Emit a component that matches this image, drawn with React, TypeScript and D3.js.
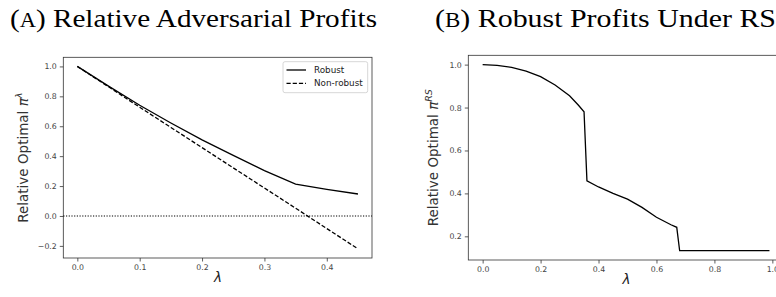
import React, { useEffect, useRef } from "react";
import * as d3 from "d3";

// Panel A: relative adversarial profits
const lambdaA = [0, 0.05, 0.1, 0.15, 0.2, 0.25, 0.3, 0.35, 0.4, 0.45];
const robustA = [1.0, 0.868, 0.74, 0.622, 0.509, 0.405, 0.303, 0.213, 0.178, 0.147];
const nonRobustA = [1.0, 0.864, 0.727, 0.592, 0.457, 0.322, 0.187, 0.052, -0.084, -0.22];
const xTicksA = [0, 0.1, 0.2, 0.3, 0.4];
const yTicksA = [-0.2, 0, 0.2, 0.4, 0.6, 0.8, 1.0];

// Panel B: robust profits under RS
const lambdaB = [0, 0.05, 0.1, 0.15, 0.2, 0.25, 0.3, 0.33, 0.35, 0.36, 0.4, 0.45, 0.5, 0.55, 0.6, 0.65, 0.67, 0.68, 0.99];
const profitB = [1.0, 0.996, 0.987, 0.97, 0.944, 0.905, 0.855, 0.812, 0.78, 0.459, 0.43, 0.4, 0.373, 0.335, 0.289, 0.254, 0.242, 0.133, 0.133];
const xTicksB = [0, 0.2, 0.4, 0.6, 0.8, 1.0];
const yTicksB = [0.2, 0.4, 0.6, 0.8, 1.0];

const tickFont = "DejaVu Sans";
const textColor = "#444";

const App = () => {
  const ref = useRef<SVGSVGElement>(null);

  useEffect(() => {
    const svg = d3.select(ref.current);
    svg.selectAll("*").remove();

    // draw a matplotlib-like axes box with ticks
    const drawAxes = (
      x: d3.ScaleLinear<number, number>,
      y: d3.ScaleLinear<number, number>,
      xTicks: number[],
      yTicks: number[]
    ) => {
      const [x0, x1] = x.range();
      const [y0, y1] = y.range();
      const g = svg.append("g");

      g.append("g")
        .attr("transform", `translate(0,${y0})`)
        .call(d3.axisBottom(x).tickValues(xTicks).tickSize(3.5).tickPadding(2.5).tickFormat(d3.format(".1f")))
        .call((a) => a.select(".domain").remove())
        .call((a) => a.selectAll("line").attr("stroke", "#333").attr("stroke-width", 0.8))
        .call((a) =>
          a.selectAll("text").attr("font-family", tickFont).attr("font-size", 7.8).attr("fill", textColor)
        );

      g.append("g")
        .attr("transform", `translate(${x0},0)`)
        .call(d3.axisLeft(y).tickValues(yTicks).tickSize(3.5).tickPadding(3).tickFormat(d3.format(".1f")))
        .call((a) => a.select(".domain").remove())
        .call((a) => a.selectAll("line").attr("stroke", "#333").attr("stroke-width", 0.8))
        .call((a) =>
          a.selectAll("text").attr("font-family", tickFont).attr("font-size", 7.8).attr("fill", textColor)
        );

      g.append("rect")
        .attr("x", x0)
        .attr("y", y1)
        .attr("width", x1 - x0)
        .attr("height", y0 - y1)
        .attr("fill", "none")
        .attr("stroke", "#333")
        .attr("stroke-width", 0.8);
    };

    const drawLine = (
      x: d3.ScaleLinear<number, number>,
      y: d3.ScaleLinear<number, number>,
      xs: number[],
      ys: number[],
      dash: string | null
    ) => {
      const line = d3
        .line<number>()
        .x((_, i) => x(xs[i]))
        .y((d) => y(d));
      svg
        .append("path")
        .attr("d", line(ys))
        .attr("fill", "none")
        .attr("stroke", "#000")
        .attr("stroke-width", 1.3)
        .attr("stroke-dasharray", dash);
    };

    const yLabel = (cx: number, cy: number, sup: string) => {
      const t = svg
        .append("text")
        .attr("transform", `translate(${cx},${cy}) rotate(-90)`)
        .attr("text-anchor", "middle")
        .attr("font-family", tickFont)
        .attr("font-size", 13.5)
        .attr("fill", "#333");
      t.append("tspan").text("Relative Optimal ");
      t.append("tspan").attr("font-style", "italic").text("π");
      t.append("tspan").attr("font-size", 9.5).attr("font-style", "italic").attr("dy", -6).text(sup);
    };

    const xLabel = (cx: number, cy: number) => {
      svg
        .append("text")
        .attr("x", cx)
        .attr("y", cy)
        .attr("text-anchor", "middle")
        .attr("font-family", tickFont)
        .attr("font-style", "italic")
        .attr("font-size", 13.5)
        .attr("fill", "#222")
        .text("λ");
    };

    const title = (x: number, y: number, letter: string, rest: string, len: number) => {
      const t = svg
        .append("text")
        .attr("x", x)
        .attr("y", y)
        .attr("font-family", "Liberation Serif")
        .attr("font-size", 26)
        .attr("fill", "#000")
        .attr("textLength", len)
        .attr("lengthAdjust", "spacingAndGlyphs");
      t.append("tspan").text("(");
      t.append("tspan").attr("font-size", 20).text(letter);
      t.append("tspan").text(") " + rest);
    };

    // ---- Panel A ----
    const xA = d3.scaleLinear().domain([-0.0225, 0.4725]).range([63.3, 372]);
    const yA = d3.scaleLinear().domain([-0.281, 1.061]).range([258, 57.3]);
    drawAxes(xA, yA, xTicksA, yTicksA);

    svg
      .append("line")
      .attr("x1", xA.range()[0])
      .attr("x2", xA.range()[1])
      .attr("y1", yA(0))
      .attr("y2", yA(0))
      .attr("stroke", "#000")
      .attr("stroke-width", 1.2)
      .attr("stroke-dasharray", "1.2,1.5");

    drawLine(xA, yA, lambdaA, nonRobustA, "4.2,2");
    drawLine(xA, yA, lambdaA, robustA, null);

    // legend
    const leg = svg.append("g");
    leg
      .append("rect")
      .attr("x", 283)
      .attr("y", 61.7)
      .attr("width", 84.7)
      .attr("height", 31)
      .attr("rx", 2)
      .attr("fill", "#fff")
      .attr("fill-opacity", 0.8)
      .attr("stroke", "#ccc")
      .attr("stroke-width", 0.8);
    const legendItems = [
      { label: "Robust", dash: null, y: 70 },
      { label: "Non-robust", dash: "4.2,2", y: 83.3 },
    ];
    legendItems.forEach((d) => {
      leg
        .append("line")
        .attr("x1", 286.5)
        .attr("x2", 306)
        .attr("y1", d.y)
        .attr("y2", d.y)
        .attr("stroke", "#000")
        .attr("stroke-width", 1.3)
        .attr("stroke-dasharray", d.dash);
      leg
        .append("text")
        .attr("x", 314)
        .attr("y", d.y + 3)
        .attr("font-family", tickFont)
        .attr("font-size", 8.8)
        .attr("fill", "#222")
        .text(d.label);
    });

    yLabel(27.5, 157.7, "λ");
    xLabel(218, 282);
    title(10, 27, "A", "Relative Adversarial Profits", 367);

    // ---- Panel B ----
    const xB = d3.scaleLinear().domain([-0.0495, 1.0395]).range([468.3, 783.8]);
    const yB = d3.scaleLinear().domain([0.0897, 1.0434]).range([260, 55.3]);
    drawAxes(xB, yB, xTicksB, yTicksB);
    drawLine(xB, yB, lambdaB, profitB, null);

    yLabel(438, 157.7, "RS");
    xLabel(626.5, 284);
    title(435, 27, "B", "Robust Profits Under RS", 341);
  }, []);

  return (
    <svg
      ref={ref}
      width={776}
      height={297}
      style={{ position: "absolute", left: 0, top: 0, background: "#fff" }}
    />
  );
};

export default App;
